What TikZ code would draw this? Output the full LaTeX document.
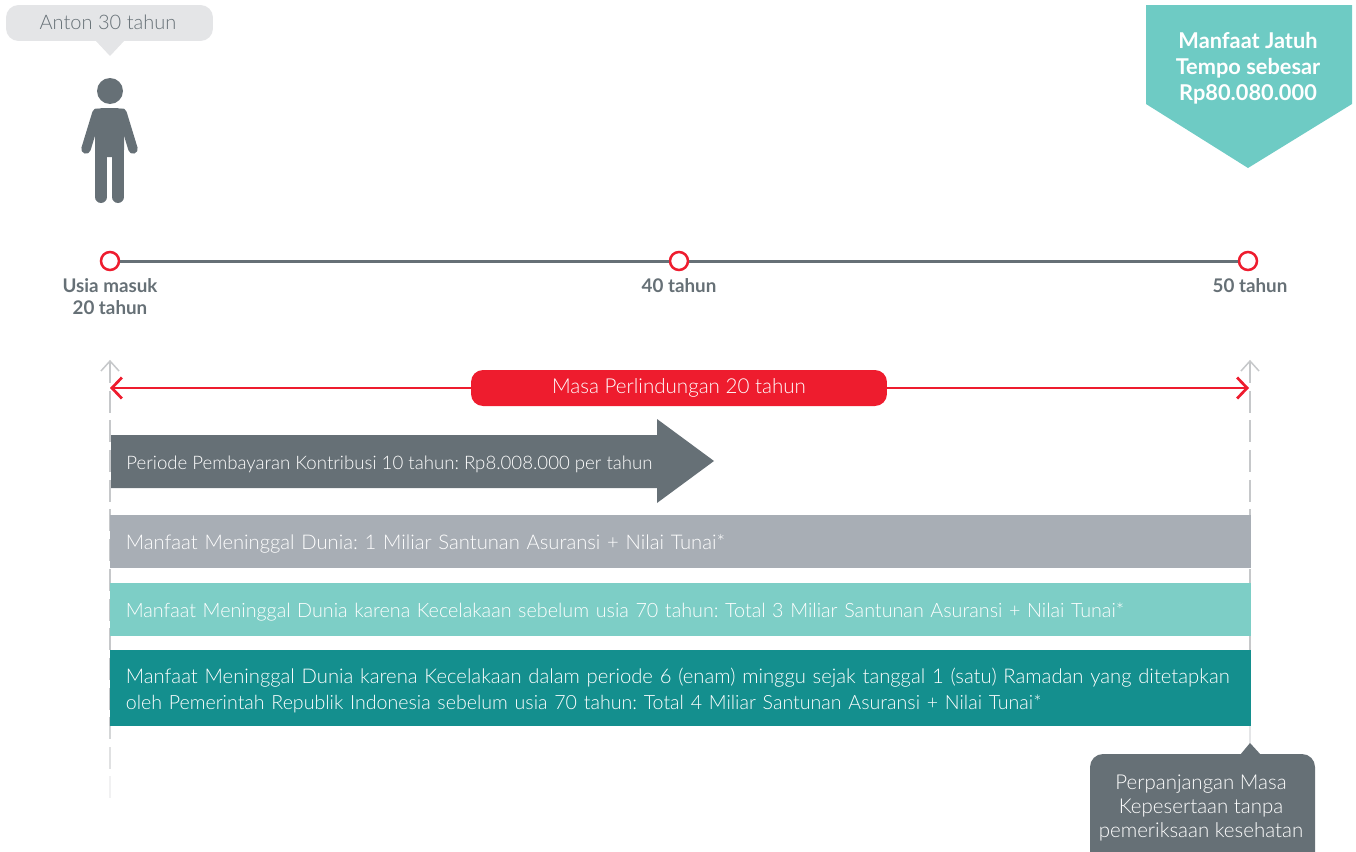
\documentclass[tikz,border=0pt]{standalone}
\usepackage{fontspec}
\setmainfont{Lato Light}[BoldFont=Lato Bold]
\frenchspacing
\usetikzlibrary{arrows.meta}
\definecolor{slategrey}{HTML}{667076}
\definecolor{bubblegrey}{HTML}{E4E5E7}
\definecolor{bargrey}{HTML}{A8AEB5}
\definecolor{barmint}{HTML}{7DCEC6}
\definecolor{barteal}{HTML}{148F8E}
\definecolor{pennantmint}{HTML}{6ECBC4}
\definecolor{cignared}{HTML}{EE1C2E}
\definecolor{guidegrey}{HTML}{C6C8CA}
\newcommand{\barlift}{\rule{0pt}{0.4cm}}
\tikzset{
  bartext/.style={anchor=west,text=white,minimum width=22.82cm,text width=22.2cm,inner xsep=0.31cm,inner ysep=0pt,align=left},
  agedot/.style={circle,draw=cignared,fill=white,line width=0.05cm,minimum size=0.36cm,inner sep=0pt},
  agelabel/.style={text=slategrey,align=center,inner sep=0pt,font=\bfseries\fontsize{10.7}{12.5}\selectfont},
  guide/.style={line width=0.03cm,dash pattern=on 0.44cm off 0.154cm},
  reach/.style={draw=cignared,line width=0.055cm,-{Straight Barb[length=0.2cm,width=0.42cm,line width=0.055cm]}}
}
\begin{document}
\begin{tikzpicture}[x=0.02cm,y=-0.02cm]
    \useasboundingbox (0,0) rectangle (1356,852);
    \clip (0,0) rectangle (1356,852);
    % person
    \fill[slategrey] (110,91) circle(13);
    \fill[slategrey,rounded corners=4] (95,108)--(124,108)--(124,157)--(95,157)--cycle;
    \draw[slategrey,line width=0.19cm,line cap=round] (97,113)--(86,149);
    \draw[slategrey,line width=0.19cm,line cap=round] (122,113)--(133,149);
    \draw[slategrey,line width=0.24cm,line cap=round] (101,120)--(101,197);
    \draw[slategrey,line width=0.24cm,line cap=round] (118,120)--(118,197);
    % bubble
    \fill[bubblegrey] (95,40)--(110,56)--(125,40)--cycle;
    \node[fill=bubblegrey,rounded corners=0.25cm,minimum width=4.14cm,minimum height=0.72cm,inner sep=0pt,text=slategrey,font=\fontsize{11.4}{13}\selectfont] (anton) at (109.5,23) {\raisebox{0.02cm}{\hspace*{-0.06cm}Anton 30 tahun}};
    % pennant
    \fill[pennantmint] (1146,5)--(1352,5)--(1352,104)--(1248,168)--(1146,104)--cycle;
    \node[text=white,align=center,inner sep=0pt,font=\bfseries\fontsize{12.4}{14.8}\selectfont] (pennant) at (1248,68.5) {Manfaat Jatuh\\Tempo sebesar\\Rp80.080.000};
    % timeline
    \node[agedot] (age20) at (110,261) {};
    \node[agedot] (age40) at (679,261) {};
    \node[agedot] (age50) at (1248,261) {};
    \draw[slategrey,line width=0.06cm] (age20)--(age40)--(age50);
    \node[agelabel,anchor=north] (lab20) at (110,278) {Usia masuk\\20 tahun};
    \node[agelabel,anchor=north] (lab40) at (679,278) {40 tahun};
    \node[agelabel,anchor=north] (lab50) at (1250,278) {50 tahun};
    % guides
    \coordinate (leftup) at (110,361);
    \coordinate (leftbar) at (110,726);
    \coordinate (rightup) at (1250,361);
    \coordinate (rightbar) at (1250,726);
    \coordinate (rightnote) at (1250,744);
    \draw[guidegrey,guide] (leftup)--(leftbar);
    \draw[guidegrey,guide] (rightup)--(rightbar);
    \draw[bubblegrey,line width=0.03cm] (rightbar)--(rightnote);
    \foreach \a/\b/\shade in {726/739/75,747/769/55,776/798/25}{
    \draw[guidegrey!\shade,line width=0.03cm] (110,\a)--(110,\b);}
    \foreach \tip in {leftup,rightup}{
    \draw[guidegrey,line width=0.03cm] ([xshift=-0.18cm,yshift=-0.2cm]\tip)--(\tip)--([xshift=0.18cm,yshift=-0.2cm]\tip);}
    % cover period
    \node[fill=cignared,rounded corners=0.24cm,minimum width=8.32cm,minimum height=0.72cm,inner sep=0pt,text=white,font=\fontsize{11.7}{13}\selectfont] (cover) at (679,388) {\raisebox{-0.02cm}{Masa Perlindungan 20 tahun}};
    \coordinate (coverleft) at (110,388);
    \coordinate (coverright) at (1249,388);
    \draw[reach] (cover.west)--(coverleft);
    \draw[reach] (cover.east)--(coverright);
    % premium arrow
    \fill[slategrey] (111,435)--(657,435)--(657,419)--(714,461)--(657,503)--(657,488)--(111,488)--cycle;
    \node[anchor=west,text=white,inner sep=0pt,font=\fontsize{10.6}{13}\selectfont] (premium) at (126,464) {Periode Pembayaran Kontribusi 10 tahun: Rp8.008.000 per tahun};
    % benefit bars
    \node[bartext,fill=bargrey,minimum height=1.06cm,font=\fontsize{11.5}{14.8}\selectfont] (death) at (110,541.5) {\barlift Manfaat Meninggal Dunia: 1 Miliar Santunan Asuransi + Nilai Tunai*};
    \node[bartext,fill=barmint,minimum height=1.06cm,font=\fontsize{11.23}{14.8}\selectfont] (accident) at (110,609.5) {\barlift Manfaat Meninggal Dunia karena Kecelakaan sebelum usia 70 tahun: Total 3 Miliar Santunan Asuransi + Nilai Tunai*};
    \node[bartext,fill=barteal,minimum height=1.52cm,font=\fontsize{11.52}{14.8}\selectfont] (ramadan) at (110,688) {\barlift Manfaat Meninggal Dunia karena Kecelakaan dalam periode 6 (enam) minggu sejak tanggal 1 (satu) Ramadan yang ditetapkan\\\fontsize{11.15}{14.8}\selectfont oleh Pemerintah Republik Indonesia sebelum usia 70 tahun: Total 4 Miliar Santunan Asuransi + Nilai Tunai*};
    % extension note
    \fill[slategrey] (1240,755)--(1250,743)--(1261,755)--cycle;
    \fill[slategrey,rounded corners=0.26cm] (1090,754) rectangle (1315,880);
    \node[text=white,align=center,inner sep=0pt,font=\fontsize{11.65}{13.7}\selectfont] (extension) at (1201,808) {Perpanjangan Masa\\Kepesertaan tanpa\\pemeriksaan kesehatan};
\end{tikzpicture}
\end{document}
